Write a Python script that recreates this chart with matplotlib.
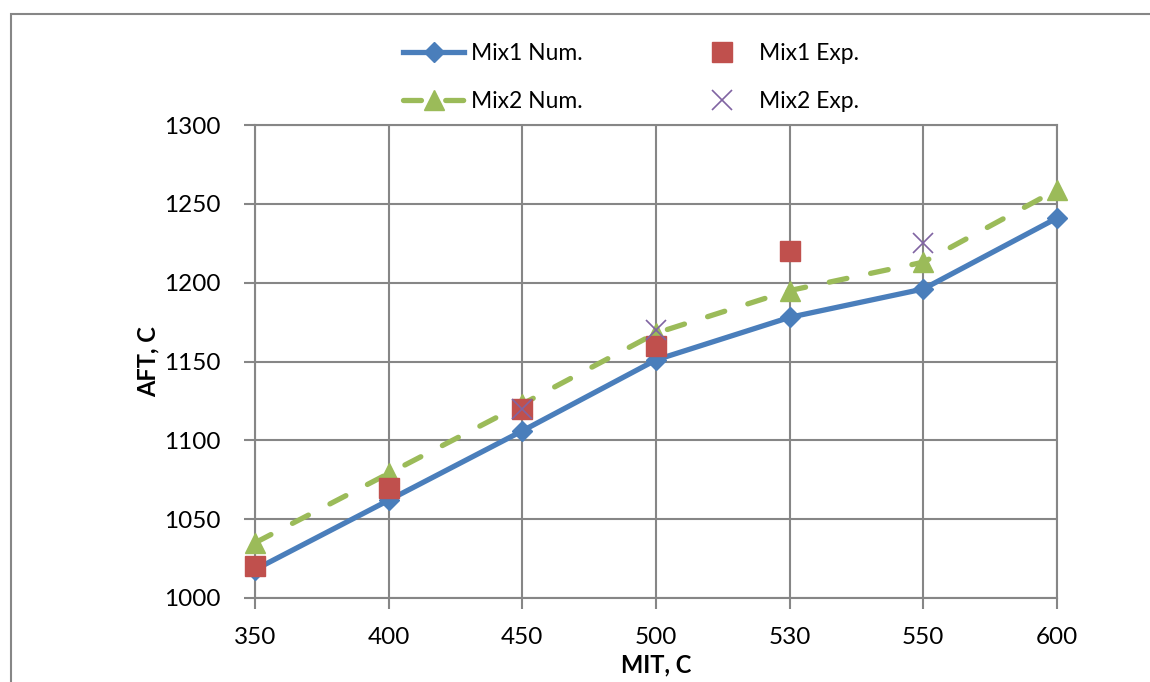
import matplotlib.pyplot as plt
import matplotlib.patches as mpatches
import numpy as np

plt.rcParams['font.family'] = ['Lato', 'DejaVu Sans']

mit = ['350', '400', '450', '500', '530', '550', '600']
mix1_num = [1018, 1062, 1106, 1151, 1178, 1196, 1241]
mix2_num = [1035, 1079, 1123, 1168, 1195, 1213, 1259]
mix1_exp_x = ['350', '400', '450', '500', '530']
mix1_exp = [1020, 1070, 1120, 1160, 1220]
mix2_exp_x = ['450', '500', '550']
mix2_exp = [1120, 1170, 1225]

blue = '#4A7EBB'
red = '#C0504D'
green = '#9BBB59'
purple = '#8064A2'
grid = '#868686'

pos = {c: i for i, c in enumerate(mit)}
x = np.arange(len(mit))

fig = plt.figure(figsize=(11.5, 6.82), dpi=100)
ax = fig.add_axes([255 / 1150, 1 - 598 / 682, 802 / 1150, 473 / 682])

# outer chart frame (cropped at right and bottom)
fig.patches.append(mpatches.Rectangle((11 / 1150, -0.1), 1.2, 1.1 - 14 / 682,
                                      transform=fig.transFigure, fill=False,
                                      edgecolor=grid, linewidth=1.5))

l1, = ax.plot(x, mix1_num, color=blue, lw=3.8, marker='D', ms=10,
              label='Mix1 Num.', zorder=3, clip_on=False)
l2, = ax.plot(x, mix2_num, color=green, lw=3.8, marker='^', ms=14,
              dashes=(3.4, 4.6), dash_capstyle='round', label='Mix2 Num.',
              zorder=4, clip_on=False)
l3, = ax.plot([pos[c] for c in mix1_exp_x], mix1_exp, ls='none', marker='s', ms=14,
              color=red, label='Mix1 Exp.', zorder=5, clip_on=False)
l4, = ax.plot([pos[c] for c in mix2_exp_x], mix2_exp, ls='none', marker='x', ms=14,
              mew=1.2, color=purple, label='Mix2 Exp.', zorder=6, clip_on=False)

ax.set_xlim(0, len(mit) - 1)
ax.set_ylim(1000, 1300)
ax.set_xticks(x)
ax.set_xticklabels(mit)
ax.set_yticks(np.arange(1000, 1301, 50))
ax.grid(True, color=grid, lw=1.5)
ax.set_axisbelow(True)
for s in ax.spines.values():
    s.set_color(grid)
    s.set_linewidth(1.5)
ax.tick_params(axis='both', colors=grid, labelcolor='black', labelsize=17.5,
               length=8, width=1.5)
ax.tick_params(axis='y', pad=17)
ax.tick_params(axis='x', pad=13)
ax.set_xlabel('MIT, C', fontsize=17, fontweight='bold', labelpad=4)
ax.set_ylabel('AFT, C', fontsize=17, fontweight='bold', labelpad=3)

fig.legend(handles=[l1, l2, l3, l4], ncol=2, frameon=False, fontsize=16.5,
           loc='center', bbox_to_anchor=(631 / 1150, 1 - 77.5 / 682),
           handlelength=2.7, handletextpad=0.3, columnspacing=4.7, labelspacing=1.15)

fig.savefig('out.png', dpi=100)
